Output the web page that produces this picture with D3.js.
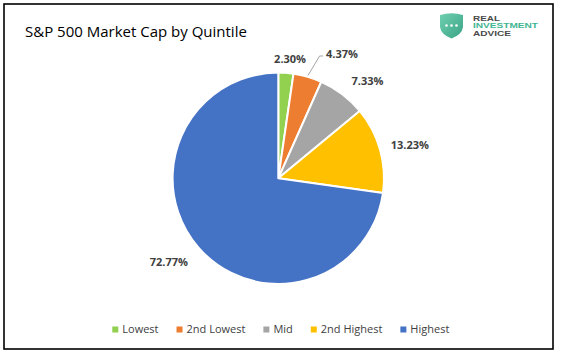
<!DOCTYPE html>
<html>
<head>
<meta charset="utf-8">
<script src="https://cdn.jsdelivr.net/npm/d3@7"></script>
<style>
  body { margin: 0; background: #fff; }
  svg { display: block; }
</style>
</head>
<body>
<script>
// data
var categories = ["Lowest", "2nd Lowest", "Mid", "2nd Highest", "Highest"];
var values = [2.30, 4.37, 7.33, 13.23, 72.77];
var colors = ["#92d050", "#ed7d31", "#a5a5a5", "#ffc000", "#4472c4"];

// label placement tweaks (degrees past slice middle, px beyond the rim)
var labelTurn = [1.5, 11, 5.2, 1.6, 3.6];
var labelPad = [14, 34, 26.5, 30, 32];

var width = 563, height = 354;
var cx = 278.3, cy = 178.3, radius = 105.7;

var svg = d3.select("body").append("svg")
  .attr("width", width)
  .attr("height", height);

svg.append("rect")
  .attr("x", 4).attr("y", 4)
  .attr("width", 549).attr("height", 345)
  .attr("fill", "#fff")
  .attr("stroke", "#000")
  .attr("stroke-width", 1.6);

// title
svg.append("text")
  .attr("x", 25).attr("y", 36.5)
  .attr("font-family", "Open Sans")
  .attr("font-size", "15px")
  .attr("fill", "#000")
  .text("S&P 500 Market Cap by Quintile");

// logo
var logo = svg.append("g");
var grad = svg.append("defs").append("linearGradient")
  .attr("id", "shield").attr("x1", 0).attr("y1", 0).attr("x2", 1).attr("y2", 1);
grad.append("stop").attr("offset", "0%").attr("stop-color", "#6fd0b0");
grad.append("stop").attr("offset", "100%").attr("stop-color", "#3aa386");
logo.append("path")
  .attr("d", "M440,15 Q451.5,11.5 463,15 L463,27 Q462,34.5 451.5,38.5 Q441,34.5 440,27 Z")
  .attr("fill", "url(#shield)");
logo.selectAll("circle").data([446.5, 451.5, 456.5]).enter().append("circle")
  .attr("cx", function(d) { return d; })
  .attr("cy", 25.5)
  .attr("r", 1.3)
  .attr("fill", "#fff");
var logoLines = [["REAL", "#4a4a4a", 27], ["INVESTMENT", "#3fb592", 65], ["ADVICE", "#4a4a4a", 38]];
logo.selectAll("text").data(logoLines).enter().append("text")
  .attr("x", 473)
  .attr("y", function(d, i) { return 20.5 + i * 7.7; })
  .attr("font-family", "Liberation Sans")
  .attr("font-size", "7.4px")
  .attr("font-weight", "bold")
  .attr("textLength", function(d) { return d[2]; })
  .attr("lengthAdjust", "spacingAndGlyphs")
  .attr("fill", function(d) { return d[1]; })
  .text(function(d) { return d[0]; });

// pie
var pie = d3.pie().sort(null).value(function(d) { return d; });
var arcs = pie(values);
var arc = d3.arc().innerRadius(0).outerRadius(radius);

var g = svg.append("g")
  .attr("transform", "translate(" + cx + "," + cy + ")");

g.selectAll("path")
  .data(arcs)
  .enter()
  .append("path")
  .attr("d", arc)
  .attr("fill", function(d, i) { return colors[i]; })
  .attr("stroke", "#fff")
  .attr("stroke-width", 2)
  .attr("stroke-linejoin", "round");

function polar(a, r) {
  return [Math.sin(a) * r, -Math.cos(a) * r];
}

// data labels
var labels = g.selectAll("text.lbl")
  .data(arcs)
  .enter()
  .append("text")
  .attr("class", "lbl")
  .attr("font-family", "Open Sans")
  .attr("font-size", "11px")
  .attr("font-weight", "bold")
  .attr("fill", "#404040")
  .attr("text-anchor", "middle")
  .each(function(d, i) {
    var a = (d.startAngle + d.endAngle) / 2 + labelTurn[i] * Math.PI / 180;
    var p = polar(a, radius + labelPad[i]);
    d3.select(this).attr("x", p[0]).attr("y", p[1] + 4);
  })
  .text(function(d) { return d.value.toFixed(2) + "%"; });

// leader line for the 2nd Lowest label
labels.filter(function(d, i) { return i === 1; }).each(function(d) {
  var t = d3.select(this);
  var w = this.getComputedTextLength();
  var lx = +t.attr("x") - w / 2 - 3;
  var ly = +t.attr("y") - 2;
  var mid = (d.startAngle + d.endAngle) / 2;
  var s = polar(mid, radius + 1.5);
  g.append("path")
    .attr("d", "M" + s[0] + "," + s[1] + "L" + (lx - 3.5) + "," + ly + "L" + lx + "," + ly)
    .attr("fill", "none")
    .attr("stroke", "#a6a6a6")
    .attr("stroke-width", 1);
});

// legend
var legend = svg.append("g");
var items = legend.selectAll("g")
  .data(categories)
  .enter()
  .append("g");
items.append("rect")
  .attr("width", 6).attr("height", 6)
  .attr("y", 326.5)
  .attr("fill", function(d, i) { return colors[i]; });
items.append("text")
  .attr("x", 10)
  .attr("y", 332.5)
  .attr("font-family", "Open Sans")
  .attr("font-size", "11px")
  .attr("fill", "#404040")
  .text(function(d) { return d; });

var pos = 0;
var offs = [];
items.each(function(d, i) {
  offs.push(pos);
  pos += 10 + d3.select(this).select("text").node().getComputedTextLength() + 18;
});
var total = pos - 18;
var start = 280.8 - total / 2;
items.attr("transform", function(d, i) { return "translate(" + (start + offs[i]) + ",0)"; });
</script>
</body>
</html>
